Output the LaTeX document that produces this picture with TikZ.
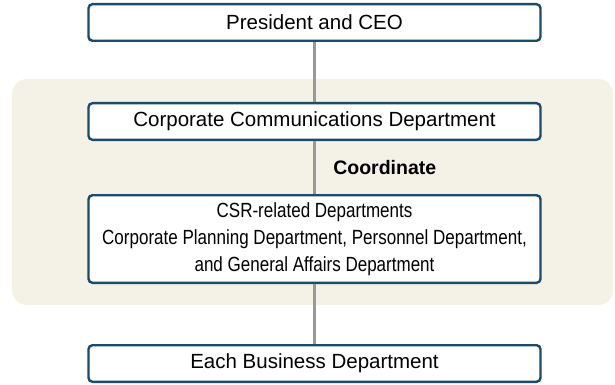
\documentclass[tikz,border=0pt]{standalone}
\usepackage{fontspec}
\usepackage{graphicx}
\setmainfont{Liberation Sans}
\usetikzlibrary{positioning}
\definecolor{boxblue}{HTML}{1B4A6B}
\definecolor{panelbg}{HTML}{F4F1E7}
\definecolor{linkgray}{HTML}{999999}
\newcommand{\narrowtext}[1]{\scalebox{0.83}[1]{\begin{tabular}{@{}c@{}}#1\end{tabular}}}
\tikzset{
    orgbox/.style={rectangle, rounded corners=4pt, draw=boxblue, line width=2.4pt,
                   fill=white, minimum width=452pt, minimum height=36.6pt,
                   inner sep=2pt, align=center,
                   font=\fontsize{20.5}{27}\selectfont},
    link/.style={draw=linkgray, line width=3pt}}

\begin{document}
\begin{tikzpicture}[x=1pt, y=-1pt, node distance=60pt]
    \useasboundingbox (0,0) rectangle (615,385);
    % shaded panel
    \fill[panelbg, rounded corners=15pt] (12,79) rectangle (613,305);

    \node[orgbox] (ceo) at (314.5,22.5) {President and CEO};
    \node[orgbox, below=60pt of ceo] (corp)
        {Corporate Communications Department};
    \node[orgbox, minimum height=87.6pt, below=53pt of corp] (csr)
        {\narrowtext{CSR-related Departments\\
         Corporate Planning Department, Personnel Department,\\
         and General Affairs Department}};
    \node[orgbox, below=60pt of csr] (biz) {Each Business Department};

    \draw[link] (ceo) -- (corp);
    \draw[link] (corp) -- node[right=14pt,
        font=\fontsize{19.5}{24}\selectfont\bfseries] (coord) {Coordinate} (csr);
    \draw[link] (csr) -- (biz);
\end{tikzpicture}
\end{document}
